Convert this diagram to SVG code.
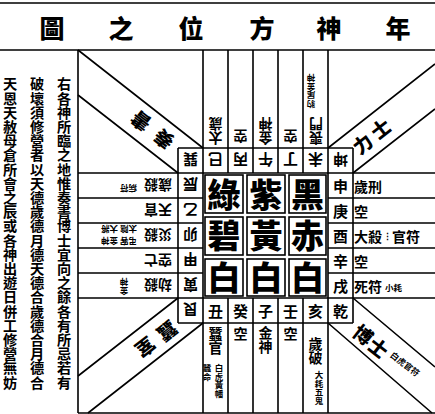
<svg xmlns="http://www.w3.org/2000/svg" width="435" height="414" viewBox="0 0 435 414">
<style>
text{font-family:"Noto Sans CJK TC","Noto Sans CJK JP",sans-serif;font-weight:700;fill:#000;text-anchor:middle;dominant-baseline:central}
.ln{stroke:#000;stroke-width:1.6;fill:none}
.t{font-size:25px;font-weight:900}
.big{font-size:33px;font-weight:900;writing-mode:vertical-rl;text-anchor:start;letter-spacing:8.75px}
.c{font-size:15px}
.g{font-size:14px;text-anchor:start}
.s{font-size:8.5px;text-anchor:start}
.gv{font-size:14px;writing-mode:vertical-rl;text-anchor:start}
.sv{font-size:8.5px;writing-mode:vertical-rl;text-anchor:start}
.d{font-size:19px;font-weight:900}
.v{font-size:14.2px;writing-mode:vertical-rl;text-anchor:start}
</style>
<rect width="435" height="414" fill="#fff"/>
<g id="title">
<text class="t" x="52" y="27">圖</text>
<text class="t" x="121" y="27">之</text>
<text class="t" x="191" y="27">位</text>
<text class="t" x="262" y="27">方</text>
<text class="t" x="329" y="27">神</text>
<text class="t" x="398" y="27">年</text>
</g>
<g id="note">
<text class="v" x="64" y="77">右各神所臨之地惟奏書博士宜向之餘各有所忌若有</text>
<text class="v" x="37" y="77">破壞須修營者以天德歲德月德天德合歲德合月德合</text>
<text class="v" x="10" y="77">天恩天赦母倉所會之辰或各神出遊日併工修營無妨</text>
</g>
<g id="connectors" class="ln">
<path d="M0 3H435M0 50H435M78 50V413M78 413H435"/>
<path d="M203 50V413M328 50V413M228 50V173M253 50V173M278 50V173M303 50V173M228 298V413M253 298V413M278 298V413M303 298V413"/>
<path d="M78 173H435M78 298H435M78 198H203M78 223H203M78 248H203M78 273H203M328 198H435M328 223H435M328 248H435M328 273H435"/>
<path d="M178 148V323M353 148V323M178 148H353M178 323H353"/>
<path d="M203 148L78 50M178 173L78 95M328 148L435 64M353 173L435 109M353 298L435 367M328 323L432 413M178 298L78 376M203 323L88 413"/>
</g>
<g id="center" class="ln">
<rect x="205" y="175" width="38" height="38"/><rect x="247" y="175" width="38" height="38"/><rect x="289" y="175" width="37" height="38"/>
<rect x="205" y="217" width="38" height="38"/><rect x="247" y="217" width="38" height="38"/><rect x="289" y="217" width="37" height="38"/>
<rect x="205" y="259" width="38" height="37"/><rect x="247" y="259" width="38" height="37"/><rect x="289" y="259" width="37" height="37"/>
</g>
<g id="stars">
<text class="big" x="224" y="177.5">綠碧白</text>
<text class="big" x="266" y="177.5">紫黃白</text>
<text class="big" x="307.5" y="177.5">黑赤白</text>
</g>
<g id="ring">
<text class="c" transform="translate(190.5,160.5) rotate(180)">巽</text>
<text class="c" transform="translate(215.5,160.5) rotate(180)">巳</text>
<text class="c" transform="translate(240.5,160.5) rotate(180)">丙</text>
<text class="c" transform="translate(265.5,160.5) rotate(180)">午</text>
<text class="c" transform="translate(290.5,160.5) rotate(180)">丁</text>
<text class="c" transform="translate(315.5,160.5) rotate(180)">未</text>
<text class="c" transform="translate(340.5,160.5) rotate(180)">坤</text>
<text class="c" x="340.5" y="185.5">申</text>
<text class="c" x="340.5" y="210.5">庚</text>
<text class="c" x="340.5" y="235.5">酉</text>
<text class="c" x="340.5" y="260.5">辛</text>
<text class="c" x="340.5" y="285.5">戌</text>
<text class="c" x="340.5" y="310.5">乾</text>
<text class="c" x="315.5" y="310.5">亥</text>
<text class="c" x="290.5" y="310.5">壬</text>
<text class="c" x="265.5" y="310.5">子</text>
<text class="c" x="240.5" y="310.5">癸</text>
<text class="c" x="215.5" y="310.5">丑</text>
<text class="c" transform="translate(190.5,310.5) rotate(180)">艮</text>
<text class="c" transform="translate(190.5,285.5) rotate(180)">寅</text>
<text class="c" transform="translate(190.5,260.5) rotate(180)">甲</text>
<text class="c" transform="translate(190.5,235.5) rotate(180)">卯</text>
<text class="c" transform="translate(190.5,210.5) rotate(180)">乙</text>
<text class="c" transform="translate(190.5,185.5) rotate(180)">辰</text>
</g>
<g id="south">
<text class="gv" transform="translate(215.5,145) rotate(180)">太歲</text>
<text class="gv" transform="translate(240.5,143) rotate(180)">空</text>
<text class="gv" transform="translate(265.5,145) rotate(180)">金神</text>
<text class="gv" transform="translate(290.5,143) rotate(180)">空</text>
<text class="gv" transform="translate(316,145) rotate(180)">喪門</text>
<text class="sv" transform="translate(311,108) rotate(180)">豹尾金神</text>
</g>
<g id="east">
<text class="g" transform="translate(172,185.5) rotate(180)">歲殺</text>
<text class="s" transform="translate(137,188.5) rotate(180)">病符</text>
<text class="g" transform="translate(172,210.5) rotate(180)">天官</text>
<text class="g" transform="translate(172,235.5) rotate(180)">災殺</text>
<text class="s" transform="translate(137,230) rotate(180)">太陰 大將</text>
<text class="s" transform="translate(137,241.5) rotate(180)">弔客 金神</text>
<text class="g" transform="translate(172,260.5) rotate(180)">空亡</text>
<text class="g" transform="translate(172,285.5) rotate(180)">劫殺</text>
<text class="sv" transform="translate(124,295) rotate(180)">金神</text>
</g>
<g id="west">
<text class="g" x="354" y="185.5">歲刑</text>
<text class="g" x="354" y="210.5">空</text>
<text class="g" x="354" y="235.5">大殺</text>
<text class="s" x="382.5" y="235.5">⋮</text>
<text class="g" x="392" y="235.5">官符</text>
<text class="g" x="354" y="260.5">空</text>
<text class="g" x="354" y="285.5">死符</text>
<text class="s" x="385" y="287">小耗</text>
</g>
<g id="north">
<text class="gv" x="215.5" y="327">蠶官</text>
<text class="sv" x="207" y="364">蠶命</text>
<text class="sv" x="219" y="364">白虎黃幡</text>
<text class="gv" x="240.5" y="327">空</text>
<text class="gv" x="265.5" y="326">金神</text>
<text class="gv" x="290.5" y="327">空</text>
<text class="gv" x="315.5" y="337">歲破</text>
<text class="sv" x="319" y="371">大耗五鬼</text>
</g>
<g id="corners">
<text class="d" transform="translate(163,140) rotate(218)">奏</text>
<text class="d" transform="translate(140,122) rotate(218)">書</text>
<text class="d" transform="translate(362,143) rotate(-38)">力</text>
<text class="d" transform="translate(380,128) rotate(-38)">士</text>
<text class="d" transform="translate(364,334) rotate(38)">博</text>
<text class="d" transform="translate(379,347) rotate(38)">士</text>
<text class="s" transform="translate(392,353) rotate(38)">白虎官符</text>
<text class="d" transform="translate(168,332) rotate(142)">蠶</text>
<text class="d" transform="translate(146,348) rotate(142)">室</text>
</g>
</svg>
